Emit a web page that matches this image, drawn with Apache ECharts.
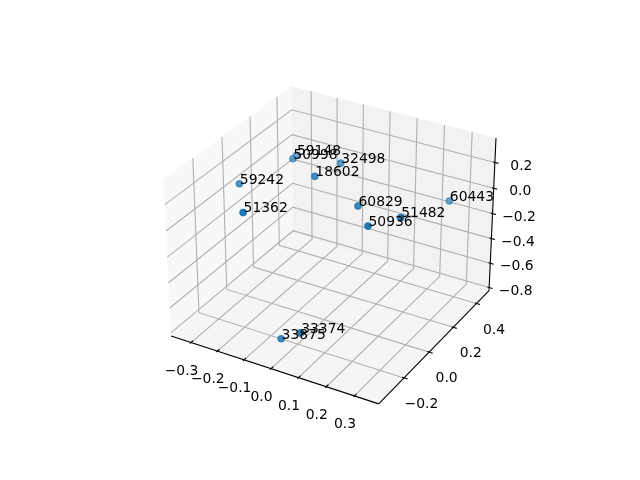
<!DOCTYPE html>
<html>
<head>
<meta charset="utf-8">
<style>html,body{margin:0;background:#fff}#main{width:640px;height:480px}</style>
<script src="https://cdn.jsdelivr.net/npm/echarts@6/dist/echarts.min.js"></script>
</head>
<body>
<div id="main"></div>
<script>
// point data
const names = ['59148','50998','32498','18602','59242','51362','60829','51482','50936','60443','33374','33875'];
const xs = [-0.251,-0.229,-0.062,-0.052,-0.283,-0.098,0.130,0.319,0.253,0.233,0.088,-0.002];
const ys = [0.297,0.227,0.254,0.038,-0.059,-0.377,-0.016,-0.102,-0.203,0.495,-0.351,-0.315];
const zs = [0.074,0.117,0.154,0.237,0.129,0.292,0.164,0.264,0.251,-0.176,-0.525,-0.669];

const xTicks = [-0.3,-0.2,-0.1,0,0.1,0.2,0.3];
const yTicks = [-0.2,0,0.2,0.4];
const zTicks = [-0.8,-0.6,-0.4,-0.2,0,0.2];
const xTickLabels = ['−0.3','−0.2','−0.1','0.0','0.1','0.2','0.3'];
const yTickLabels = ['−0.2','0.0','0.2','0.4'];
const zTickLabels = ['−0.8','−0.6','−0.4','−0.2','0.0','0.2'];

const xLim = [-0.3766,0.3848];
const yLim = [-0.393,0.5106];
const zLim = [-0.826,0.387];

//view, same numbers as a default mplot3d axes
const DIST = 10;
const EL = 30*Math.PI/180;
const AZ = -60*Math.PI/180;
const K = 1.8294640721620434*25/24/Math.sqrt(41);
const box = [4*K,4*K,3*K];
const w = [Math.cos(EL)*Math.cos(AZ),Math.cos(EL)*Math.sin(AZ),Math.sin(EL)];
const n0 = Math.hypot(w[0],w[1]);
const u = [-w[1]/n0,w[0]/n0,0];
const v = [w[1]*u[2]-w[2]*u[1],w[2]*u[0]-w[0]*u[2],w[0]*u[1]-w[1]*u[0]];
const dot = (a,b) => a[0]*b[0]+a[1]*b[1]+a[2]*b[2];

function relative(p) {
  return [
    ((p[0]-xLim[0])/(xLim[1]-xLim[0])-0.5)*box[0],
    ((p[1]-yLim[0])/(yLim[1]-yLim[0])-0.5)*box[1],
    ((p[2]-zLim[0])/(zLim[1]-zLim[0])-0.5)*box[2]
  ];
}
function depth(p) {
  return dot(relative(p),w);
}
function project(p) {
  const b = relative(p);
  const r = [b[0]-DIST*w[0],b[1]-DIST*w[1],b[2]-DIST*w[2]];
  const zv = -dot(r,w);
  return [dot(r,u)/zv,dot(r,v)/zv];
}

const [x0,x1] = xLim, [y0,y1] = yLim, [z0,z1] = zLim;
const dx = (x1-x0)/12, dy = (y1-y0)/12;

const GRID_COLOR = '#b0b0b0';
const AXIS_COLOR = '#000000';
const FONT = '"DejaVu Sans"';

//panes
const panes = [
  {pts:[[x0,y0,z0],[x0,y1,z0],[x0,y1,z1],[x0,y0,z1]],fill:'rgba(242,242,242,0.5)'},
  {pts:[[x0,y1,z0],[x1,y1,z0],[x1,y1,z1],[x0,y1,z1]],fill:'rgba(230,230,230,0.5)'},
  {pts:[[x0,y0,z0],[x1,y0,z0],[x1,y1,z0],[x0,y1,z0]],fill:'rgba(236,236,236,0.5)'}
];
const lines = [];
function addLine(pts,color,width) {
  lines.push({pts:pts,color:color,width:width});
}
xTicks.forEach(t => addLine([[t,y0,z0],[t,y1,z0],[t,y1,z1]],GRID_COLOR,1.1));
yTicks.forEach(t => addLine([[x1,t,z0],[x0,t,z0],[x0,t,z1]],GRID_COLOR,1.1));
zTicks.forEach(t => addLine([[x0,y0,t],[x0,y1,t],[x1,y1,t]],GRID_COLOR,1.1));
addLine([[x0,y0,z0],[x1,y0,z0]],AXIS_COLOR,1.1);
addLine([[x1,y0,z0],[x1,y1,z0]],AXIS_COLOR,1.1);
addLine([[x1,y1,z0],[x1,y1,z1]],AXIS_COLOR,1.1);
xTicks.forEach(t => addLine([[t,y0-0.1*dy,z0],[t,y0+0.2*dy,z0]],AXIS_COLOR,1.1));
yTicks.forEach(t => addLine([[x1+0.2*dx,t,z0],[x1-0.1*dx,t,z0]],AXIS_COLOR,1.1));
zTicks.forEach(t => addLine([[x1+0.2*dx,y1,t],[x1-0.1*dx,y1,t]],AXIS_COLOR,1.1));

//tick labels sit at a fixed pixel offset from their tick
const tickTexts = [];
xTicks.forEach((t,i) => tickTexts.push({at:[t,y0,z0],text:xTickLabels[i],ox:-9.5,oy:28.5}));
yTicks.forEach((t,i) => tickTexts.push({at:[x1,t,z0],text:yTickLabels[i],ox:17.5,oy:26.5}));
zTicks.forEach((t,i) => tickTexts.push({at:[x1,y1,t],text:zTickLabels[i],ox:26.5,oy:3.5}));

//nearer points are drawn more solid
const depths = names.map((n,i) => depth([xs[i],ys[i],zs[i]]));
const dMax = Math.max.apply(Math,depths);
const dMin = Math.min.apply(Math,depths);
const points = names.map((n,i) => ({
  name:n,
  value:project([xs[i],ys[i],zs[i]]),
  itemStyle:{opacity:1-(dMax-depths[i])/(dMax-dMin)*0.4}
}));

const chart = echarts.init(document.getElementById('main'));
chart.setOption({
  animation:false,
  grid:{left:143.2,top:57.6,width:369.6,height:369.6},
  xAxis:{type:'value',min:-0.095,max:0.09,show:false},
  yAxis:{type:'value',min:-0.095,max:0.09,show:false},
  series:[
    {
      type:'custom',
      clip:false,
      silent:true,
      data:panes.map((p,i) => [i]),
      renderItem:function (params,api) {
        const p = panes[api.value(0)];
        return {type:'polygon',shape:{points:p.pts.map(q => api.coord(project(q)))},style:{fill:p.fill}};
      }
    },
    {
      type:'custom',
      clip:false,
      silent:true,
      data:lines.map((l,i) => [i]),
      renderItem:function (params,api) {
        const l = lines[api.value(0)];
        return {type:'polyline',shape:{points:l.pts.map(q => api.coord(project(q)))},style:{stroke:l.color,lineWidth:l.width,fill:null}};
      }
    },
    {
      type:'custom',
      clip:false,
      silent:true,
      data:tickTexts.map((t,i) => [i]),
      renderItem:function (params,api) {
        const t = tickTexts[api.value(0)];
        const c = api.coord(project(t.at));
        return {type:'text',style:{text:t.text,x:c[0]+t.ox,y:c[1]+t.oy,fill:'#000',font:'13.9px '+FONT,textAlign:'center',textVerticalAlign:'middle'}};
      }
    },
    {
      type:'scatter',
      symbolSize:6.2,
      data:points,
      itemStyle:{color:'#1f77b4',borderColor:'#1f77b4',borderWidth:1.4},
      label:{
        show:true,
        formatter:'{b}',
        position:[4.3,-7],
        color:'#000',
        opacity:1,
        fontFamily:'DejaVu Sans',
        fontSize:13.9
      }
    }
  ]
});
</script>
</body>
</html>
